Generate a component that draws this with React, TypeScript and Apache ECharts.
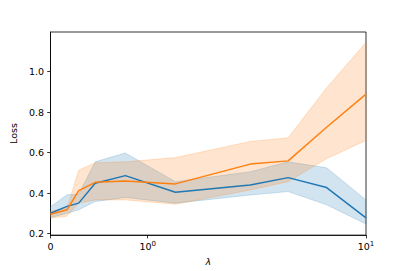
import React, { useEffect, useRef } from "react";
import * as echarts from "echarts";

// lambda values (symlog-like x axis)
const lambdas = [0, 0.17, 0.29, 0.46, 0.77, 1.34, 2.95, 4.4, 6.6, 10];

const blueMean = [0.3, 0.334, 0.35, 0.448, 0.486, 0.404, 0.44, 0.476, 0.427, 0.277];
const blueUpper = [0.332, 0.391, 0.394, 0.554, 0.598, 0.456, 0.505, 0.554, 0.525, 0.366];
const blueLower = [0.278, 0.3, 0.317, 0.358, 0.378, 0.35, 0.39, 0.407, 0.342, 0.247];

const orangeMean = [0.295, 0.317, 0.412, 0.453, 0.459, 0.445, 0.543, 0.559, 0.725, 0.889];
const orangeUpper = [0.311, 0.326, 0.513, 0.55, 0.554, 0.575, 0.655, 0.673, 0.92, 1.145];
const orangeLower = [0.277, 0.285, 0.35, 0.366, 0.366, 0.345, 0.415, 0.456, 0.57, 0.66];

const xTickValues = [0, 1, 10];
const xTickLabels = ["{b|0}", "{b|10}{s|0}", "{b|10}{s|1}"];
const yTickValues = [0.2, 0.4, 0.6, 0.8, 1.0];

const BLUE = "#1f77b4";
const ORANGE = "#ff7f0e";
const FONT = "DejaVu Sans";
const FS = 9.5;

const LIN = 0.445;
const fx = (x: number) => (x <= 1 ? LIN * x : LIN + Math.log10(x));

function band(upper: number[], lower: number[], color: string, name: string) {
  return {
    type: "custom",
    name,
    silent: true,
    z: 1,
    data: [[0]],
    renderItem: (_params: any, api: any) => {
      const pts: number[][] = [];
      for (let i = 0; i < lambdas.length; i++) pts.push(api.coord([fx(lambdas[i]), upper[i]]));
      for (let i = lambdas.length - 1; i >= 0; i--) pts.push(api.coord([fx(lambdas[i]), lower[i]]));
      return {
        type: "polygon",
        shape: { points: pts },
        style: { fill: color, opacity: 0.2, stroke: color, lineWidth: 1 },
      };
    },
  };
}

export default function App() {
  const ref = useRef<HTMLDivElement>(null);
  useEffect(() => {
    if (!ref.current) return;
    const chart = echarts.init(ref.current, undefined, { renderer: "svg" });
    chart.setOption({
      animation: false,
      grid: {
        left: 50,
        right: 41,
        top: 32,
        bottom: 34,
        show: true,
        borderColor: "#000",
        borderWidth: 0.8,
        backgroundColor: "transparent",
      },
      xAxis: {
        type: "value",
        min: 0,
        max: fx(10),
        name: "\u03bb",
        nameLocation: "middle",
        nameGap: 18,
        nameTextStyle: { fontFamily: FONT, fontSize: FS, fontStyle: "italic", color: "#000000" },
        splitLine: { show: false },
        axisLine: { show: true, lineStyle: { color: "#000", width: 0.8 } },
        axisTick: {
          show: true,
          length: 3.3,
          customValues: xTickValues.map(fx),
          lineStyle: { color: "#000", width: 0.8 },
        },
        axisLabel: {
          customValues: xTickValues.map(fx),
          margin: 5,
          fontFamily: FONT,
          fontSize: FS,
          color: "#000000",
          rich: {
            b: { fontFamily: FONT, fontSize: FS, color: "#000000", lineHeight: 12 },
            s: { fontFamily: FONT, fontSize: 7, color: "#000000", verticalAlign: "top", lineHeight: 8 },
          },
          formatter: (v: number) => {
            let best = 0;
            xTickValues.forEach((t, i) => {
              if (Math.abs(fx(t) - v) < Math.abs(fx(xTickValues[best]) - v)) best = i;
            });
            return xTickLabels[best];
          },
        },
      },
      yAxis: {
        type: "value",
        min: 0.192,
        max: 1.196,
        name: "Loss",
        nameLocation: "middle",
        nameGap: 20,
        nameTextStyle: { fontFamily: FONT, fontSize: FS, color: "#000000" },
        splitLine: { show: false },
        axisLine: { show: true, lineStyle: { color: "#000", width: 0.8 } },
        axisTick: {
          show: true,
          length: 3.3,
          customValues: yTickValues,
          lineStyle: { color: "#000", width: 0.8 },
        },
        axisLabel: {
          customValues: yTickValues,
          margin: 6.5,
          fontFamily: FONT,
          fontSize: FS,
          color: "#000000",
          formatter: (v: number) => v.toFixed(1),
        },
      },
      series: [
        band(blueUpper, blueLower, BLUE, "blue band"),
        band(orangeUpper, orangeLower, ORANGE, "orange band"),
        {
          type: "line",
          name: "blue",
          z: 3,
          showSymbol: false,
          data: lambdas.map((x, i) => [fx(x), blueMean[i]]),
          lineStyle: { color: BLUE, width: 1.45 },
          itemStyle: { color: BLUE },
        },
        {
          type: "line",
          name: "orange",
          z: 4,
          showSymbol: false,
          data: lambdas.map((x, i) => [fx(x), orangeMean[i]]),
          lineStyle: { color: ORANGE, width: 1.45 },
          itemStyle: { color: ORANGE },
        },
      ],
    });
    return () => chart.dispose();
  }, []);
  return <div ref={ref} style={{ width: 407, height: 271, position: "absolute", left: 0, top: 0 }} />;
}
